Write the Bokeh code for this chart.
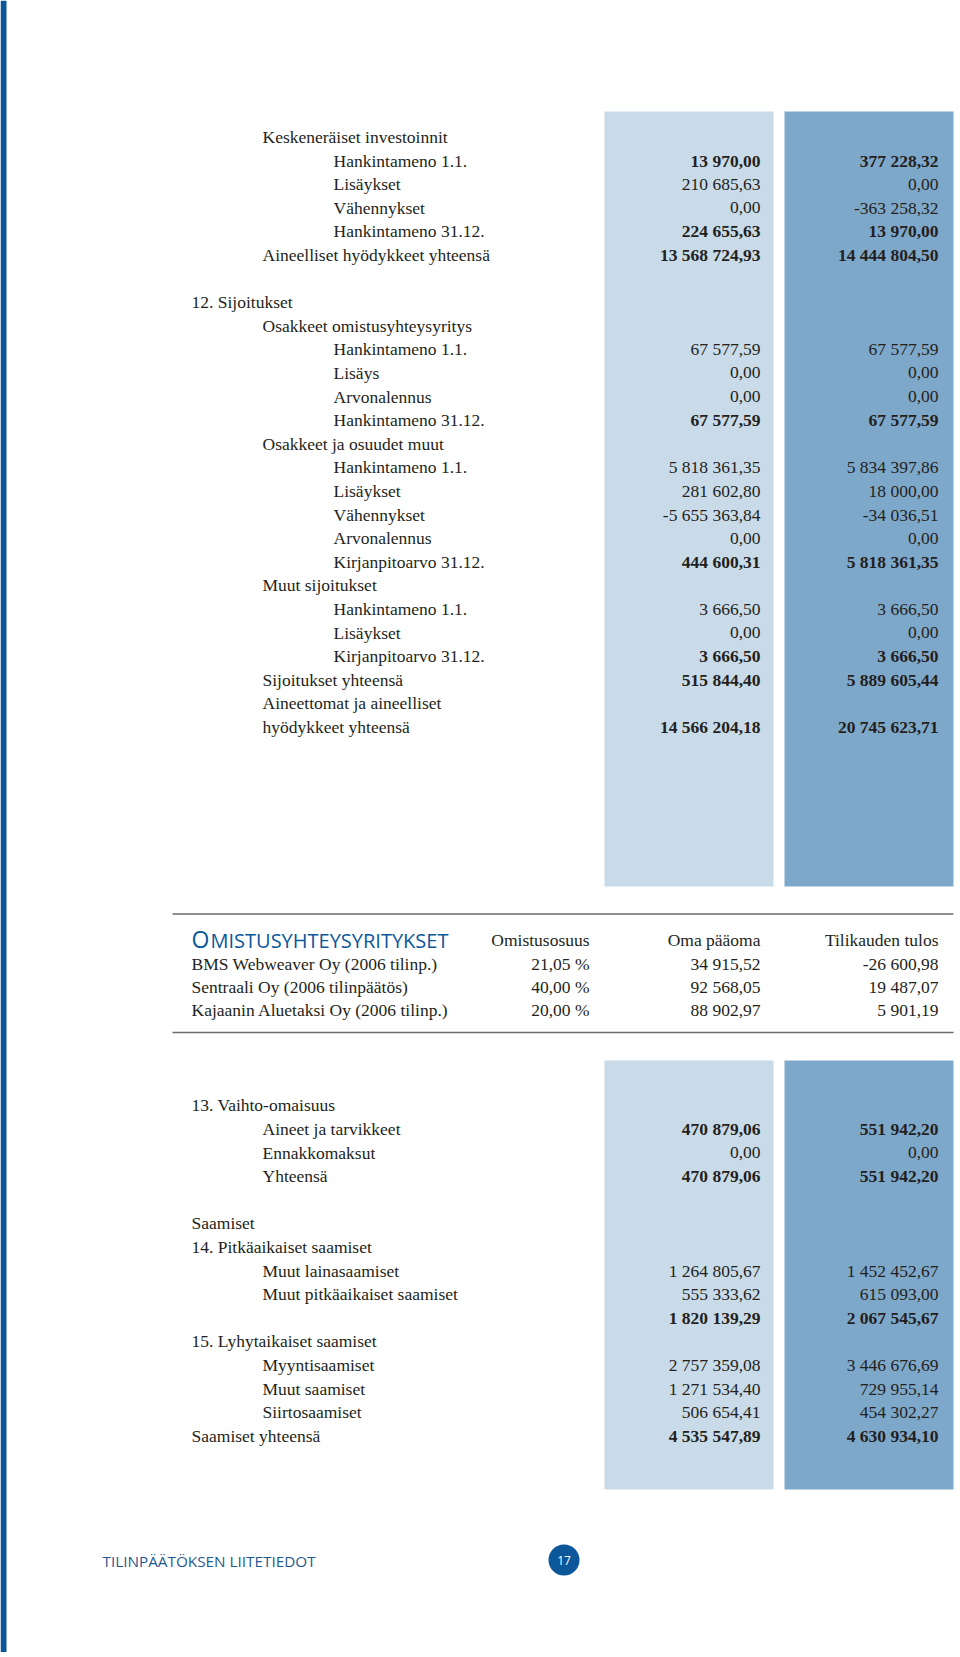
from bokeh.plotting import figure
from bokeh.models import Range1d, ColumnDataSource
from bokeh.core.properties import value
from bokeh.embed import file_html
from bokeh.resources import INLINE

# ---------------- data ----------------
# Section A: investments (label, indent level, 2007, 2006, bold)
a_labels = ["Keskeneräiset investoinnit", "Hankintameno 1.1.", "Lisäykset", "Vähennykset",
            "Hankintameno 31.12.", "Aineelliset hyödykkeet yhteensä", "",
            "12. Sijoitukset", "Osakkeet omistusyhteysyritys", "Hankintameno 1.1.", "Lisäys",
            "Arvonalennus", "Hankintameno 31.12.", "Osakkeet ja osuudet muut",
            "Hankintameno 1.1.", "Lisäykset", "Vähennykset", "Arvonalennus",
            "Kirjanpitoarvo 31.12.", "Muut sijoitukset", "Hankintameno 1.1.", "Lisäykset",
            "Kirjanpitoarvo 31.12.", "Sijoitukset yhteensä", "Aineettomat ja aineelliset",
            "hyödykkeet yhteensä"]
a_levels = [1, 2, 2, 2, 2, 1, 0, 0, 1, 2, 2, 2, 2, 1, 2, 2, 2, 2, 2, 1, 2, 2, 2, 1, 1, 1]
a_2007 = [None, 13970.00, 210685.63, 0.00, 224655.63, 13568724.93, None,
          None, None, 67577.59, 0.00, 0.00, 67577.59, None,
          5818361.35, 281602.80, -5655363.84, 0.00, 444600.31, None,
          3666.50, 0.00, 3666.50, 515844.40, None, 14566204.18]
a_2006 = [None, 377228.32, 0.00, -363258.32, 13970.00, 14444804.50, None,
          None, None, 67577.59, 0.00, 0.00, 67577.59, None,
          5834397.86, 18000.00, -34036.51, 0.00, 5818361.35, None,
          3666.50, 0.00, 3666.50, 5889605.44, None, 20745623.71]
a_bold = [0, 1, 0, 0, 1, 1, 0, 0, 0, 0, 0, 0, 1, 0, 0, 0, 0, 0, 1, 0, 0, 0, 1, 1, 0, 1]

# Section B: associated companies
b_header = ["Omistusosuus", "Oma pääoma", "Tilikauden tulos"]
b_companies = ["BMS Webweaver Oy (2006 tilinp.)", "Sentraali Oy (2006 tilinpäätös)",
               "Kajaanin Aluetaksi Oy (2006 tilinp.)"]
b_share = [21.05, 40.00, 20.00]
b_equity = [34915.52, 92568.05, 88902.97]
b_result = [-26600.98, 19487.07, 5901.19]

# Section C: inventories and receivables
c_labels = ["13. Vaihto-omaisuus", "Aineet ja tarvikkeet", "Ennakkomaksut", "Yhteensä", "",
            "Saamiset", "14. Pitkäaikaiset saamiset", "Muut lainasaamiset",
            "Muut pitkäaikaiset saamiset", "", "15. Lyhytaikaiset saamiset",
            "Myyntisaamiset", "Muut saamiset", "Siirtosaamiset", "Saamiset yhteensä"]
c_levels = [0, 1, 1, 1, 0, 0, 0, 1, 1, 1, 0, 1, 1, 1, 0]
c_2007 = [None, 470879.06, 0.00, 470879.06, None, None, None, 1264805.67, 555333.62,
          1820139.29, None, 2757359.08, 1271534.40, 506654.41, 4535547.89]
c_2006 = [None, 551942.20, 0.00, 551942.20, None, None, None, 1452452.67, 615093.00,
          2067545.67, None, 3446676.69, 729955.14, 454302.27, 4630934.10]
c_bold = [0, 1, 0, 1, 0, 0, 0, 0, 0, 1, 0, 0, 0, 0, 1]

footer_text = "TILINPÄÄTÖKSEN LIITETIEDOT"
page_number = "17"

# ---------------- helpers ----------------
def fmt(v):
    s = f"{abs(v):,.2f}".replace(",", " ").replace(".", ",")
    return ("-" if v < 0 else "") + s

SERIF = "Liberation Serif"
SANS = "Open Sans"
INK = "#231f20"
LIGHT = "#c9dbe8"
DARK = "#7ea8ca"
BLUE = "#0b5799"
FS = "17.5px"

W, H = 956, 1652
p = figure(width=W, height=H, output_backend="svg", toolbar_location=None,
           x_range=Range1d(0, W), y_range=Range1d(H, 0), min_border=0)
p.axis.visible = False
p.grid.visible = False
p.outline_line_color = None
p.background_fill_color = "white"

# left page bar
p.quad(left=[0], right=[6], top=[0], bottom=[H], fill_color=BLUE, line_color=None)

# column backgrounds
for top, bot in [(111, 886), (1060, 1489)]:
    p.quad(left=[604], right=[773], top=[top], bottom=[bot], fill_color=LIGHT, line_color=None)
    p.quad(left=[784], right=[953], top=[top], bottom=[bot], fill_color=DARK, line_color=None)

indent_x = {0: 191, 1: 262, 2: 333}
COL1_X, COL2_X = 760, 938


def draw_section(labels, levels, v1, v2, bold, y0, step):
    lab = dict(x=[], y=[], t=[])
    num = {0: dict(x=[], y=[], t=[]), 1: dict(x=[], y=[], t=[])}
    for i, (l, lv) in enumerate(zip(labels, levels)):
        y = y0 + i * step
        if l:
            lab["x"].append(indent_x[lv]); lab["y"].append(y); lab["t"].append(l)
        if v1[i] is not None:
            d = num[bold[i]]
            d["x"] += [COL1_X, COL2_X]; d["y"] += [y, y]; d["t"] += [fmt(v1[i]), fmt(v2[i])]
    p.text(x="x", y="y", text="t", source=ColumnDataSource(lab), text_font=value(SERIF),
           text_font_size=FS, text_color=INK, text_baseline="middle", text_align="left")
    for b, d in num.items():
        p.text(x="x", y="y", text="t", source=ColumnDataSource(d), text_font=value(SERIF),
               text_font_size=FS, text_color=INK, text_baseline="middle", text_align="right",
               text_font_style="bold" if b else "normal")


draw_section(a_labels, a_levels, a_2007, a_2006, a_bold, 136.4, 23.6)
draw_section(c_labels, c_levels, c_2007, c_2006, c_bold, 1104.9, 23.6)

# ---------------- associated companies table ----------------
p.segment(x0=[172, 172], x1=[953, 953], y0=[913.5, 1032], y1=[913.5, 1032],
          line_color="#6b6b6b", line_width=1.6)
p.text(x=[191], y=[938.5], text=["O"], text_font=value(SANS), text_font_size="23px",
       text_color=BLUE, text_baseline="middle", text_align="left")
p.text(x=[210], y=[940], text=["MISTUSYHTEYSYRITYKSET"], text_font=value(SANS),
       text_font_size="20px", text_color=BLUE, text_baseline="middle", text_align="left")
hx = [589, 760, 938]
p.text(x=hx, y=[939] * 3, text=b_header, text_font=value(SERIF), text_font_size=FS,
       text_color=INK, text_baseline="middle", text_align="right")
row_y = [963.2, 986.5, 1009.7]
comp = dict(x=[191] * 3, y=row_y, t=b_companies)
p.text(x="x", y="y", text="t", source=ColumnDataSource(comp), text_font=value(SERIF),
       text_font_size=FS, text_color=INK, text_baseline="middle", text_align="left")
cells = dict(x=[], y=[], t=[])
for i, y in enumerate(row_y):
    cells["x"] += hx
    cells["y"] += [y] * 3
    cells["t"] += [f"{b_share[i]:.2f}".replace(".", ",") + " %", fmt(b_equity[i]), fmt(b_result[i])]
p.text(x="x", y="y", text="t", source=ColumnDataSource(cells), text_font=value(SERIF),
       text_font_size=FS, text_color=INK, text_baseline="middle", text_align="right")

# ---------------- footer ----------------
p.text(x=[102], y=[1560], text=[footer_text], text_font=value(SANS), text_font_size="15.3px",
       text_color="#1f5b92", text_baseline="middle", text_align="left")
p.scatter(x=[563.5], y=[1559.5], size=31, marker="circle", fill_color=BLUE, line_color=None)
p.text(x=[563.5], y=[1560], text=[page_number], text_font=value(SANS), text_font_size="12px",
       text_color="white", text_baseline="middle", text_align="center")

open("out.html", "w").write(file_html(p, INLINE))
